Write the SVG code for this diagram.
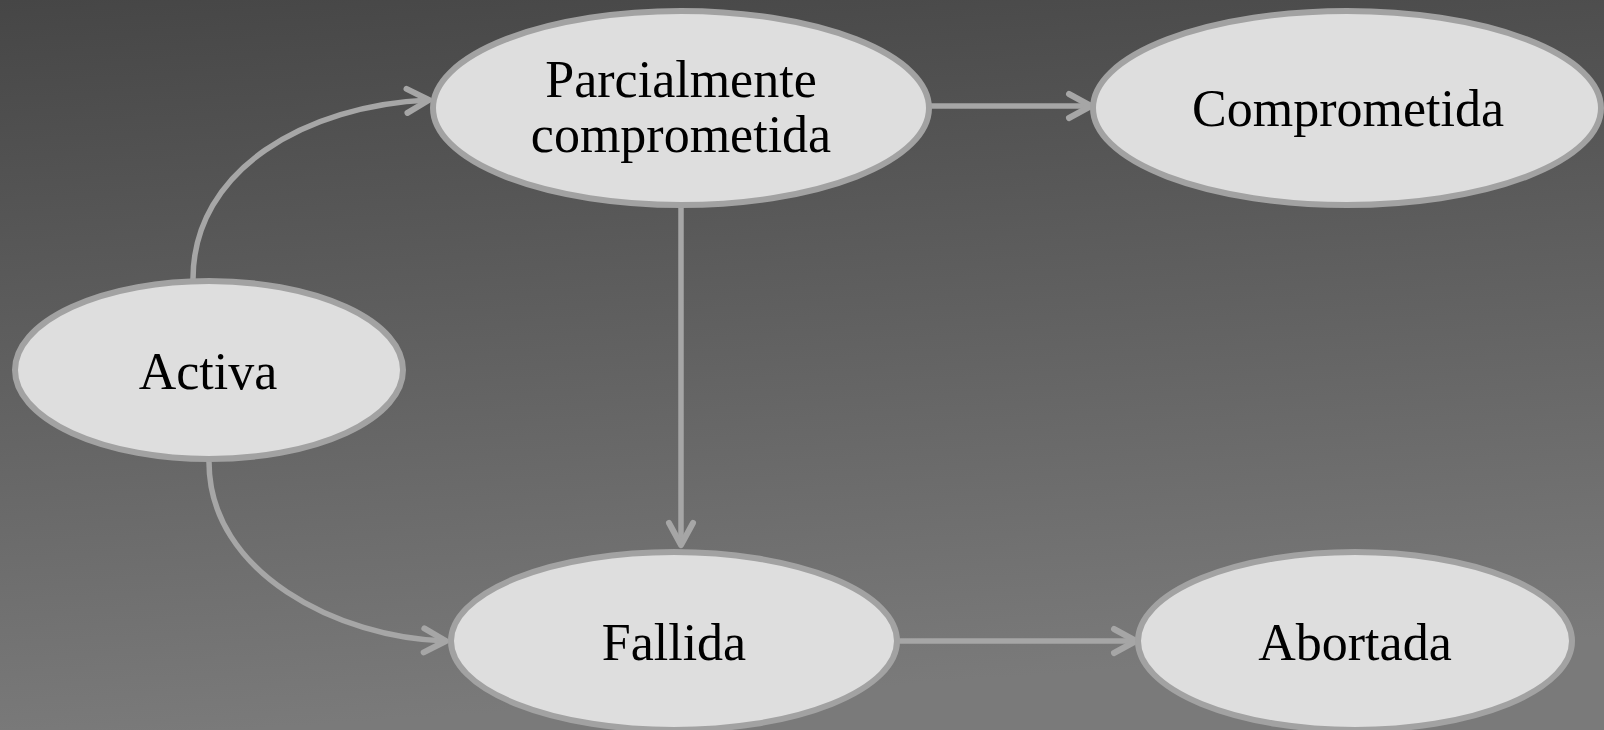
<svg xmlns="http://www.w3.org/2000/svg" width="1604" height="730" viewBox="0 0 1604 730">
<defs>
<linearGradient id="bg" x1="0" y1="0" x2="0.15" y2="1">
<stop offset="0" stop-color="#464646"/>
<stop offset="1" stop-color="#7a7a7a"/>
</linearGradient>
<marker id="arr" markerUnits="userSpaceOnUse" markerWidth="40" markerHeight="40" viewBox="-30 -20 40 40" refX="0" refY="0" orient="auto">
<path d="M-22,-12 L0,0 L-22,12" fill="none" stroke="#a6a6a6" stroke-width="6" stroke-linecap="round" stroke-linejoin="round"/>
</marker>
</defs>
<style>
.node ellipse{fill:#dedede;stroke:#a2a2a2;stroke-width:6}
.node text{font-family:"Liberation Serif",serif;font-size:52px;fill:#000;text-anchor:middle}
.conn path{fill:none;stroke:#a6a6a6;stroke-width:5.5;marker-end:url(#arr)}
</style>
<rect width="1604" height="730" fill="url(#bg)"/>
<g class="conn" id="connectors">
<path d="M193,279 C193,169 307,105 429,100"/>
<path d="M209,462 C209,573 338,638 446,641"/>
<path d="M681,208 L681,545"/>
<path d="M931,106 L1091,106"/>
<path d="M899,641 L1136,641"/>
</g>
<g class="node" id="parcial">
<ellipse cx="681" cy="108" rx="248" ry="97"/>
<text x="681" y="97">Parcialmente</text>
<text x="681" y="152">comprometida</text>
</g>
<g class="node" id="comprometida">
<ellipse cx="1347" cy="108" rx="254" ry="97"/>
<text x="1348" y="126">Comprometida</text>
</g>
<g class="node" id="activa">
<ellipse cx="209" cy="370" rx="194" ry="89"/>
<text x="208" y="389">Activa</text>
</g>
<g class="node" id="fallida">
<ellipse cx="674" cy="641" rx="223" ry="89"/>
<text x="674" y="660">Fallida</text>
</g>
<g class="node" id="abortada">
<ellipse cx="1355" cy="641" rx="217" ry="89"/>
<text x="1355" y="660">Abortada</text>
</g>
</svg>
